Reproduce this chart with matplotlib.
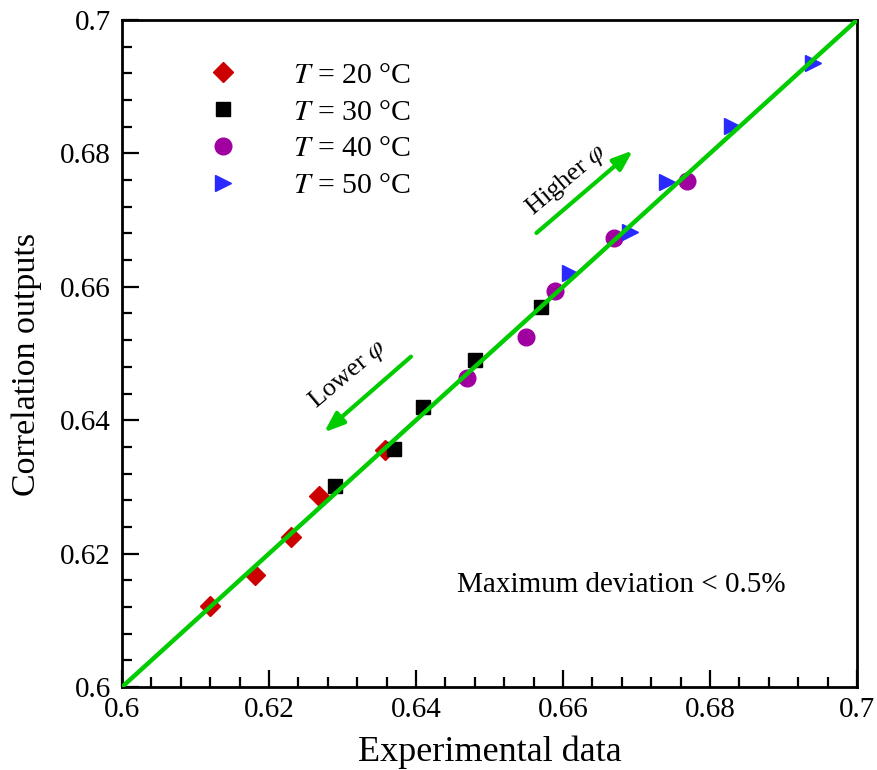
import matplotlib
matplotlib.use("Agg")
import matplotlib.pyplot as plt
from matplotlib.ticker import MultipleLocator

plt.rcParams['font.family'] = ['Liberation Serif', 'DejaVu Serif']
plt.rcParams['mathtext.fontset'] = 'stix'

# Data (experimental, correlation)
x20 = [0.6120, 0.6181, 0.6230, 0.6268, 0.6358]
y20 = [0.6121, 0.6168, 0.6225, 0.6286, 0.6355]
x30 = [0.6290, 0.6370, 0.6410, 0.6480, 0.6570]
y30 = [0.6301, 0.6357, 0.6420, 0.6490, 0.6570]
x40 = [0.6469, 0.6550, 0.6589, 0.6669, 0.6769]
y40 = [0.6463, 0.6525, 0.6594, 0.6673, 0.6759]
x50 = [0.6610, 0.6691, 0.6741, 0.6830, 0.6940]
y50 = [0.6621, 0.6682, 0.6757, 0.6841, 0.6936]
labels = ['$T$ = 20 °C', '$T$ = 30 °C', '$T$ = 40 °C', '$T$ = 50 °C']
line_x = [0.6, 0.7]
xticks = [0.6, 0.62, 0.64, 0.66, 0.68, 0.7]
xticklabels = ['0.6', '0.62', '0.64', '0.66', '0.68', '0.7']

fig = plt.figure(figsize=(8.77, 7.70), dpi=100)
ax = fig.add_axes([122/877, 1-687/770, 735/877, 667/770])

ax.plot(line_x, line_x, color='#00cc00', lw=3.2, zorder=3)
ax.plot(x20, y20, ls='none', marker='D', ms=10.5, color='#cc0000', label=labels[0], zorder=2)
ax.plot(x30, y30, ls='none', marker='s', ms=10.5, color='black', label=labels[1], zorder=2)
ax.plot(x40, y40, ls='none', marker='o', ms=12, color='#a000a0', label=labels[2], zorder=2)
ax.plot(x50, y50, ls='none', marker='>', ms=11.5, color='#2a2aff', label=labels[3], zorder=2)

ax.set_xlim(0.6, 0.7)
ax.set_ylim(0.6, 0.7)
ax.set_xticks(xticks)
ax.set_xticklabels(xticklabels)
ax.set_yticks(xticks)
ax.set_yticklabels(xticklabels)
ax.xaxis.set_minor_locator(MultipleLocator(0.004))
ax.yaxis.set_minor_locator(MultipleLocator(0.004))
ax.tick_params(which='both', direction='in', top=False, right=False, width=1.6, labelsize=21)
ax.tick_params(which='major', length=12)
ax.tick_params(which='minor', length=7)
ax.tick_params(axis='x', pad=7)
ax.tick_params(axis='y', pad=8)
for s in ax.spines.values():
    s.set_linewidth(2)

ax.set_xlabel('Experimental data', fontsize=26, labelpad=9)
ax.set_ylabel('Correlation outputs', fontsize=24.5)
ax.yaxis.set_label_coords(-0.109, 0.483)

leg = ax.legend(loc='upper left', bbox_to_anchor=(0.08, 0.955), frameon=False,
                fontsize=21.5, handletextpad=1.35, labelspacing=0.33, borderaxespad=0)

# arrows
ax.annotate('', xy=(0.6272, 0.6379), xytext=(0.6396, 0.6498),
            arrowprops=dict(arrowstyle='-|>,head_length=1.2,head_width=0.45', color='#00cc00', lw=3))
ax.annotate('', xy=(0.6698, 0.6807), xytext=(0.6561, 0.6678),
            arrowprops=dict(arrowstyle='-|>,head_length=1.2,head_width=0.45', color='#00cc00', lw=3))
ax.text(0.6307, 0.6468, r'Lower $\varphi$', rotation=40, fontsize=19, ha='center', va='center')
ax.text(0.6605, 0.6760, r'Higher $\varphi$', rotation=40, fontsize=19, ha='center', va='center')
ax.text(0.6903, 0.6153, 'Maximum deviation < 0.5%', fontsize=21, ha='right', va='center')

fig.savefig('out.png', dpi=100)
